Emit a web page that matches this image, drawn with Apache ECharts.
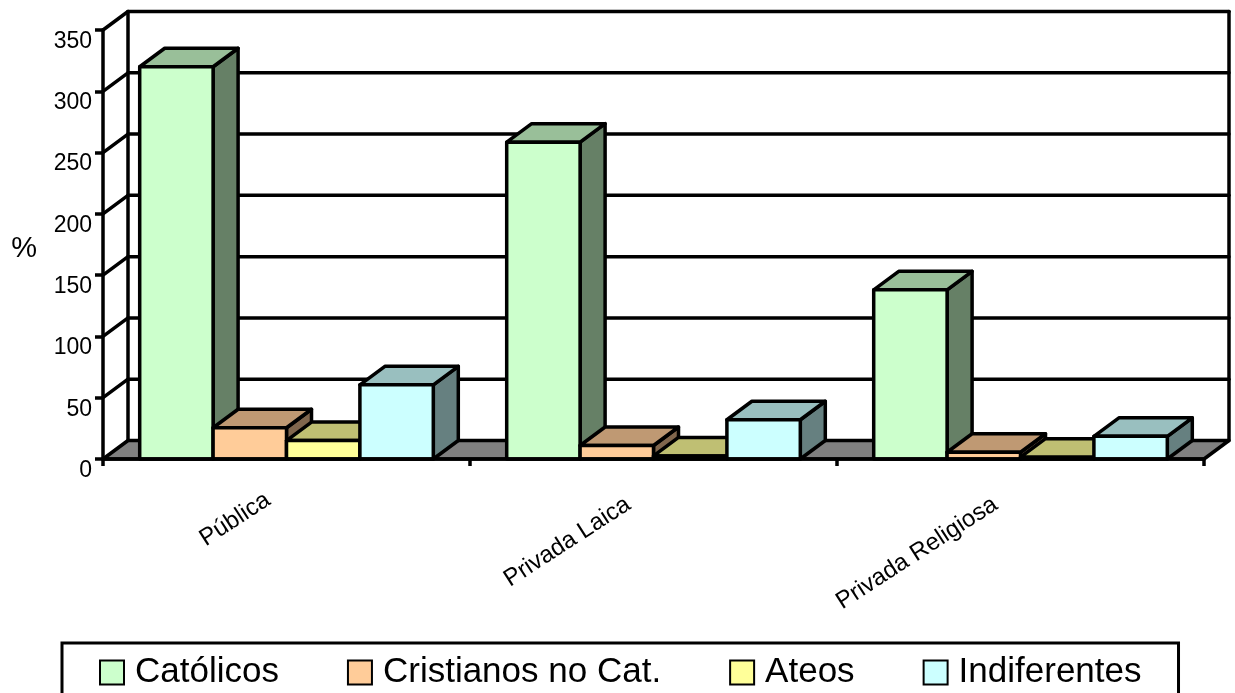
<!DOCTYPE html>
<html>
<head>
<meta charset="utf-8">
<style>html,body{margin:0;padding:0;background:#fff}#c{width:1235px;height:693px}</style>
<script src="https://cdn.jsdelivr.net/npm/echarts@6/dist/echarts.min.js"></script>
</head>
<body>
<div id="c"></div>
<script>
// Categories, tick values and series
const categories = ['Pública', 'Privada Laica', 'Privada Religiosa'];
const yTicks = [0, 50, 100, 150, 200, 250, 300, 350];
const seriesNames = ['Católicos', 'Cristianos no Cat.', 'Ateos', 'Indiferentes'];
const catolicos = [320, 258.5, 138];
const cristianos = [25.5, 11, 5.5];
const ateos = [15, 2.5, 1.5];
const indiferentes = [60.5, 32, 18.5];
const seriesValues = [catolicos, cristianos, ateos, indiferentes];

// Face colours: front, top (shaded), side (darker)
const faces = [
  ['#CCFFCC', '#99BF99', '#668066'],
  ['#FFCC99', '#BF9973', '#80664D'],
  ['#FFFF99', '#BFBF73', '#80804D'],
  ['#CCFFFF', '#99BFBF', '#668080']
];

// Oblique projection used for the 3D look, in pixels
const DX = 25;
const DY = -18.5;
const LINE = 3.5;
const FONT = '"Liberation Sans", Arial, sans-serif';

const edge = { stroke: '#000', lineWidth: LINE, lineJoin: 'round' };

function poly(points, fill) {
  return { type: 'polygon', shape: { points }, style: Object.assign({ fill }, edge) };
}
function seg(x1, y1, x2, y2) {
  return { type: 'line', shape: { x1, y1, x2, y2 }, style: { stroke: '#000', lineWidth: LINE, lineCap: 'round' } };
}

// Floor plus the left and right edges of the back wall
function renderRoom(params, api) {
  const band = api.size([1, 0])[0];
  const base = api.coord([0, 0]);
  const top = api.coord([0, yTicks[yTicks.length - 1]]);
  const xl = base[0] - band / 2;
  const xr = xl + band * categories.length;
  return {
    type: 'group',
    children: [
      poly([[xl, base[1]], [xl + DX, base[1] + DY], [xr + DX, base[1] + DY], [xr, base[1]]], '#808080'),
      seg(xl + DX, top[1] + DY, xl + DX, base[1] + DY),
      seg(xr + DX, top[1] + DY, xr + DX, base[1] + DY)
    ]
  };
}

// One gridline on the back wall and its slanted run to the value axis
function renderGrid(params, api) {
  const band = api.size([1, 0])[0];
  const p = api.coord([0, api.value(1)]);
  const xl = p[0] - band / 2;
  const xr = xl + band * categories.length;
  return {
    type: 'group',
    children: [
      seg(xl, p[1], xl + DX, p[1] + DY),
      seg(xl + DX, p[1] + DY, xr + DX, p[1] + DY)
    ]
  };
}

// A box: front face, shaded top and darker right side
function boxRenderer(seriesIndex) {
  return function (params, api) {
    const band = api.size([1, 0])[0];
    const w = band / 5;
    const t = api.coord([api.value(0), api.value(1)]);
    const b = api.coord([api.value(0), 0]);
    const x0 = t[0] + (seriesIndex - 2) * w;
    const x1 = x0 + w;
    const c = faces[seriesIndex];
    return {
      type: 'group',
      children: [
        poly([[x1, t[1]], [x1 + DX, t[1] + DY], [x1 + DX, b[1] + DY], [x1, b[1]]], c[2]),
        poly([[x0, t[1]], [x0 + DX, t[1] + DY], [x1 + DX, t[1] + DY], [x1, t[1]]], c[1]),
        poly([[x0, t[1]], [x1, t[1]], [x1, b[1]], [x0, b[1]]], c[0])
      ]
    };
  };
}

const boxSeries = seriesNames.map((name, i) => ({
  name,
  type: 'custom',
  renderItem: boxRenderer(i),
  coordinateSystem: 'cartesian2d',
  encode: { x: 0, y: 1 },
  itemStyle: { color: faces[i][0], borderColor: '#000', borderWidth: LINE },
  data: seriesValues[i].map((v, k) => [k, v]),
  clip: false,
  silent: true,
  z: 3
}));

const labelBase = { fontFamily: FONT, fontSize: 24, color: '#000' };

const chart = echarts.init(document.getElementById('c'), null, { renderer: 'canvas' });
chart.setOption({
  animation: false,
  backgroundColor: '#fff',
  grid: { left: 103, right: 31, top: 30, bottom: 234, outerBoundsMode: 'none' },
  legend: {
    data: seriesNames,
    left: 62,
    top: 643,
    orient: 'horizontal',
    padding: [12, 37, 5, 37],
    itemGap: 68,
    itemWidth: 24,
    itemHeight: 24,
    icon: 'rect',
    borderColor: '#000',
    borderWidth: 3,
    selectedMode: false,
    textStyle: { fontFamily: FONT, fontSize: 35, color: '#000', padding: [0, 0, 0, 6] }
  },
  xAxis: {
    type: 'category',
    data: categories,
    z: 5,
    axisLine: { lineStyle: { color: '#000', width: LINE } },
    axisTick: { show: true, length: 7, lineStyle: { color: '#000', width: LINE } },
    axisLabel: {
      rotate: 33,
      margin: 27,
      interval: 0,
      ...labelBase,
      formatter: (v) => (v === categories[0] ? '{near|' + v + '}' : '{far|' + v + '}'),
      rich: {
        near: { ...labelBase, padding: [0, 22, 0, 0] },
        far: { ...labelBase, padding: [0, 30, 0, 0] }
      }
    },
    splitLine: { show: false }
  },
  yAxis: {
    type: 'value',
    min: 0,
    max: 350,
    interval: 50,
    z: 5,
    name: '%',
    nameLocation: 'middle',
    nameRotate: 0,
    nameGap: 66,
    nameTextStyle: { fontFamily: FONT, fontSize: 29, color: '#000', verticalAlign: 'top', lineHeight: 8 },
    axisLine: { show: true, lineStyle: { color: '#000', width: LINE } },
    axisTick: { show: true, length: 8, lineStyle: { color: '#000', width: LINE } },
    axisLabel: { margin: 11, verticalAlign: 'top', fontFamily: FONT, fontSize: 23, color: '#000' },
    splitLine: { show: false }
  },
  series: [
    { type: 'custom', renderItem: renderRoom, encode: { x: 0, y: 1 }, data: [[0, 0]], clip: false, silent: true, z: 1 },
    { type: 'custom', renderItem: renderGrid, encode: { x: 0, y: 1 }, data: yTicks.slice(1).map(v => [0, v]), clip: false, silent: true, z: 2 }
  ].concat(boxSeries)
});
</script>
</body>
</html>
